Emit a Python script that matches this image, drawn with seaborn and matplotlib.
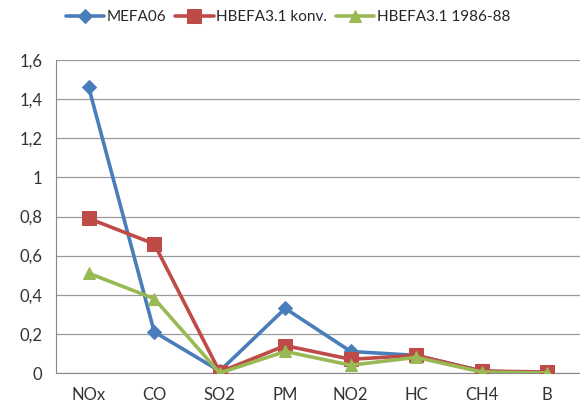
import numpy as np
import pandas as pd
import matplotlib.pyplot as plt
import seaborn as sns

categories = ['NOx', 'CO', 'SO2', 'PM', 'NO2', 'HC', 'CH4', 'B']
mefa06 = [1.46, 0.21, 0.01, 0.33, 0.11, 0.09, 0.01, 0.0]
hbefa_konv = [0.79, 0.66, 0.005, 0.14, 0.07, 0.09, 0.01, 0.005]
hbefa_8688 = [0.51, 0.38, 0.0, 0.11, 0.04, 0.08, 0.005, 0.0]
series_names = ['MEFA06', 'HBEFA3.1 konv.', 'HBEFA3.1 1986-88']
yticks = [0, 0.2, 0.4, 0.6, 0.8, 1.0, 1.2, 1.4, 1.6]
ytick_labels = ['0', '0,2', '0,4', '0,6', '0,8', '1', '1,2', '1,4', '1,6']

df = pd.DataFrame({
    'cat': categories * 3,
    'x': list(range(len(categories))) * 3,
    'value': mefa06 + hbefa_konv + hbefa_8688,
    'series': [series_names[0]] * 8 + [series_names[1]] * 8 + [series_names[2]] * 8,
})

sns.set_style('white')
plt.rcParams['font.family'] = ['Lato', 'DejaVu Sans']

palette = {series_names[0]: '#4A7EBB', series_names[1]: '#BE4B48', series_names[2]: '#98B954'}
markers = {series_names[0]: 'D', series_names[1]: 's', series_names[2]: '^'}
sizes = {series_names[0]: 7.5, series_names[1]: 10, series_names[2]: 9}

fig = plt.figure(figsize=(5.8, 4.05), dpi=100)
ax = fig.add_axes([56 / 580, 32 / 405, 524 / 580, 313 / 405])

for name in series_names:
    sub = df[df['series'] == name]
    sns.lineplot(data=sub, x='x', y='value', ax=ax, color=palette[name], marker=markers[name],
                 markersize=sizes[name], markeredgecolor=palette[name], linewidth=2.6,
                 label=name, zorder=3)

ax.set_xlim(-0.5, len(categories) - 0.5)
ax.set_ylim(0, 1.6)
ax.set_yticks(yticks)
ax.set_yticklabels(ytick_labels, fontsize=12, color='#333333')
ax.set_xticks(range(len(categories)))
ax.set_xticklabels(categories, fontsize=12, color='#333333')
ax.set_xticks(np.arange(-0.5, len(categories), 1), minor=True)
ax.tick_params(axis='x', which='major', length=0, pad=10)
ax.tick_params(axis='x', which='minor', length=5, color='#888888', direction='out')
ax.tick_params(axis='y', length=4, color='#888888', pad=6)
ax.set_xlabel('')
ax.set_ylabel('')
ax.grid(axis='y', color='#9a9a9a', linewidth=0.9)
ax.set_axisbelow(True)
for s in ['top', 'right']:
    ax.spines[s].set_visible(False)
ax.spines['left'].set_color('#888888')
ax.spines['bottom'].set_color('#888888')

ax.legend(loc='center', ncol=3, frameon=False, fontsize=11, handlelength=2.5,
          handletextpad=0.15, columnspacing=0.6, borderaxespad=0)
leg = ax.get_legend()
leg.set_bbox_to_anchor((288 / 580, 1 - 17 / 405), transform=fig.transFigure)

fig.savefig('out.png', dpi=100)
